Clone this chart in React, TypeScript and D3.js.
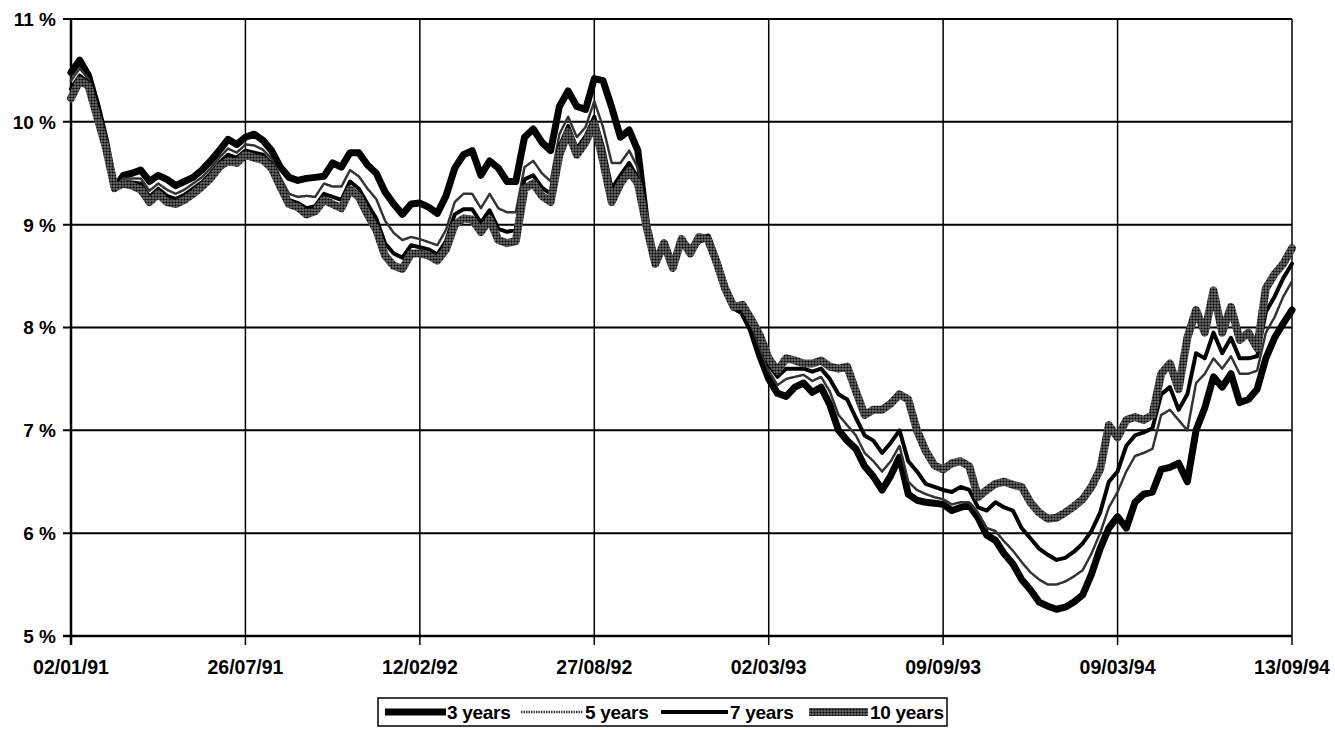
import React from "react";
import * as d3 from "d3";

const tickLabels = ["02/01/91", "26/07/91", "12/02/92", "27/08/92", "02/03/93", "09/09/93", "09/03/94", "13/09/94"];
const yTicks = [5, 6, 7, 8, 9, 10, 11];
const seriesNames = ["3 years", "5 years", "7 years", "10 years"];

const y3 = [
  10.48, 10.6, 10.45, 10.15, 9.8, 9.35, 9.48, 9.5, 9.53, 9.42,
  9.48, 9.44, 9.38, 9.42, 9.46, 9.53, 9.62, 9.72, 9.83, 9.78,
  9.85, 9.88, 9.82, 9.72, 9.56, 9.46, 9.43, 9.45, 9.46, 9.47,
  9.6, 9.56, 9.7, 9.7, 9.58, 9.5, 9.32, 9.2, 9.1, 9.2,
  9.21, 9.17, 9.11, 9.28, 9.55, 9.68, 9.72, 9.48, 9.62, 9.55,
  9.42, 9.42, 9.85, 9.93, 9.8, 9.72, 10.15, 10.3, 10.15, 10.12,
  10.42, 10.4, 10.14, 9.85, 9.92, 9.72, 9.0, 8.62, 8.82, 8.6,
  8.85, 8.75, 8.85, 8.88, 8.65, 8.38, 8.2, 8.15, 7.98, 7.72,
  7.5, 7.36, 7.33, 7.42, 7.46, 7.37, 7.42, 7.25, 7.0, 6.9,
  6.82, 6.65, 6.55, 6.42, 6.56, 6.74, 6.38, 6.32, 6.3, 6.29,
  6.28, 6.22, 6.25, 6.27, 6.15, 5.98, 5.93, 5.8, 5.7, 5.55,
  5.45, 5.33, 5.29, 5.26, 5.28, 5.33, 5.4, 5.6, 5.85, 6.05,
  6.16, 6.05, 6.3, 6.38, 6.4, 6.62, 6.64, 6.68, 6.5, 7.0,
  7.22, 7.52, 7.42, 7.55, 7.27, 7.3, 7.4, 7.7, 7.9, 8.04,
  8.17,
];

const y5 = [
  10.4, 10.52, 10.42, 10.12, 9.78, 9.36, 9.45, 9.45, 9.45, 9.33,
  9.4, 9.34, 9.3, 9.34, 9.4, 9.46, 9.55, 9.65, 9.74, 9.7,
  9.78, 9.77, 9.73, 9.64, 9.46, 9.3, 9.27, 9.28, 9.27, 9.4,
  9.37, 9.37, 9.53, 9.47, 9.35, 9.25, 9.04, 8.92, 8.85, 8.88,
  8.86, 8.83, 8.8, 8.95, 9.22, 9.3, 9.3, 9.16, 9.3, 9.16,
  9.12, 9.12, 9.56, 9.62, 9.5, 9.42, 9.88, 10.05, 9.85, 9.95,
  10.2, 9.95, 9.6, 9.6, 9.72, 9.55, 8.98, 8.62, 8.82, 8.6,
  8.86, 8.74, 8.86, 8.87, 8.65, 8.38, 8.2, 8.18, 8.02, 7.8,
  7.58, 7.44, 7.5, 7.52, 7.54, 7.48, 7.52, 7.38, 7.15, 7.05,
  6.95, 6.78, 6.7, 6.6, 6.7, 6.85, 6.5, 6.42, 6.38, 6.35,
  6.33, 6.28, 6.3, 6.3, 6.2, 6.05, 6.02, 5.92, 5.83, 5.72,
  5.62, 5.55, 5.5, 5.5, 5.53, 5.58, 5.64, 5.8, 6.0, 6.25,
  6.4, 6.6, 6.75, 6.78, 6.82, 7.15, 7.2, 7.1, 7.0, 7.46,
  7.55, 7.7, 7.6, 7.72, 7.55, 7.55, 7.58, 7.95, 8.1, 8.3,
  8.45,
];

const y7 = [
  10.32, 10.45, 10.38, 10.1, 9.76, 9.35, 9.42, 9.41, 9.4, 9.27,
  9.35, 9.28, 9.25, 9.29, 9.35, 9.41, 9.5, 9.6, 9.68, 9.65,
  9.72, 9.7, 9.68, 9.59, 9.41, 9.24, 9.21, 9.16, 9.18, 9.3,
  9.27, 9.24, 9.42, 9.35, 9.2, 9.06, 8.82, 8.72, 8.68, 8.8,
  8.78, 8.76, 8.71, 8.84, 9.1, 9.15, 9.15, 9.02, 9.14, 8.96,
  8.93, 8.95, 9.44, 9.48, 9.36, 9.3, 9.76, 9.96, 9.74, 9.86,
  10.05, 9.75, 9.35, 9.48, 9.6, 9.45, 8.98, 8.62, 8.82, 8.59,
  8.86, 8.73, 8.87, 8.86, 8.64, 8.38, 8.2, 8.2, 8.05, 7.86,
  7.64, 7.52, 7.6, 7.6, 7.6, 7.57, 7.6, 7.5, 7.35, 7.3,
  7.12, 6.95, 6.9, 6.78, 6.88, 7.0, 6.7, 6.6, 6.48, 6.45,
  6.42, 6.4, 6.45, 6.42, 6.25, 6.22, 6.3, 6.25, 6.22, 6.05,
  5.95, 5.85, 5.79, 5.74, 5.76, 5.82, 5.9, 6.02, 6.2, 6.5,
  6.6, 6.85, 6.95, 6.98, 7.02, 7.35, 7.42, 7.2, 7.35, 7.75,
  7.7, 7.95, 7.75, 7.9, 7.7, 7.7, 7.72, 8.15, 8.3, 8.48,
  8.62,
];

const y10 = [
  10.23, 10.4, 10.35, 10.05, 9.75, 9.36, 9.4, 9.38, 9.34, 9.22,
  9.3, 9.22, 9.2, 9.24, 9.3, 9.37, 9.45, 9.56, 9.62, 9.6,
  9.68, 9.65, 9.63, 9.55, 9.37, 9.2, 9.17, 9.1, 9.13, 9.24,
  9.2, 9.16, 9.34, 9.27, 9.1, 8.95, 8.7, 8.6, 8.57, 8.72,
  8.72, 8.7, 8.65, 8.76, 9.0, 9.06, 9.05, 8.93, 9.05, 8.85,
  8.82, 8.84, 9.35, 9.4, 9.28, 9.22, 9.68, 9.9, 9.68, 9.8,
  9.98, 9.62, 9.22, 9.4, 9.52, 9.4, 8.98, 8.62, 8.82, 8.58,
  8.86, 8.72, 8.88, 8.86, 8.64, 8.38, 8.2, 8.22, 8.08, 7.92,
  7.7, 7.58, 7.7, 7.68, 7.65, 7.65, 7.68, 7.62, 7.6, 7.62,
  7.38, 7.15, 7.2, 7.2, 7.26, 7.35, 7.3, 7.0, 6.8, 6.66,
  6.62, 6.68, 6.7, 6.65, 6.35, 6.42, 6.48, 6.5, 6.47, 6.45,
  6.3, 6.2, 6.14, 6.15, 6.2, 6.26, 6.33, 6.45, 6.62, 7.05,
  6.93, 7.1, 7.13, 7.1, 7.15, 7.55, 7.65, 7.4, 7.9, 8.17,
  7.95, 8.36, 7.95, 8.2, 7.88, 7.95, 7.8, 8.38, 8.52, 8.62,
  8.77,
];

const FONT = "'Liberation Sans', Arial, Helvetica, sans-serif";

export default function App() {
  const n = y3.length;
  const x = d3.scaleLinear().domain([0, n - 1]).range([71, 1292]);
  const y = d3.scaleLinear().domain([5, 11]).range([636, 19]);
  const line = d3
    .line<number>()
    .x((_, i) => x(i))
    .y((d) => y(d))
    .curve(d3.curveLinear);

  const tickIdx = tickLabels.map((_, k) => (k * (n - 1)) / (tickLabels.length - 1));

  const styles = [
    { stroke: "#000", width: 7, dash: undefined as string | undefined },
    { stroke: "#333", width: 2.5, dash: "1.5 1" },
    { stroke: "#000", width: 4, dash: undefined },
    { stroke: "url(#stip)", width: 8, dash: undefined },
  ];
  const data = [y3, y5, y7, y10];

  const legX = 378;
  const legY = 698;
  const legW = 569;
  const legH = 28;
  const legItems = [
    { x1: 385, x2: 446, tx: 447 },
    { x1: 521, x2: 583, tx: 585 },
    { x1: 661, x2: 728, tx: 730 },
    { x1: 809, x2: 868, tx: 870 },
  ];

  return (
    <svg
      width={1335}
      height={730}
      style={{ position: "absolute", left: 0, top: 0, background: "#fff" }}
      fontFamily={FONT}
    >
      <defs>
        <pattern id="stip" width="3" height="3" patternUnits="userSpaceOnUse">
          <rect width="3" height="3" fill="#6a6a6a" />
          <circle cx="1.5" cy="1.5" r="1.1" fill="#000" />
        </pattern>
      </defs>
      <rect x={0} y={0} width={1335} height={730} fill="#fff" />

      {yTicks.map((t) => (
        <line key={"h" + t} x1={63} x2={1292} y1={y(t)} y2={y(t)} stroke="#000" strokeWidth={t === 5 ? 2.5 : 2} />
      ))}
      {tickIdx.map((ti, k) => (
        <line
          key={"v" + k}
          x1={x(ti)}
          x2={x(ti)}
          y1={y(11)}
          y2={y(5) + 9}
          stroke="#000"
          strokeWidth={k === 0 ? 2.5 : 1.5}
        />
      ))}

      {yTicks.map((t) => (
        <text
          key={"yl" + t}
          x={56}
          y={y(t)}
          dy="0.36em"
          textAnchor="end"
          fontSize={19}
          fontWeight="bold"
          fill="#000"
        >
          {t + " %"}
        </text>
      ))}
      {tickLabels.map((lab, k) => (
        <text
          key={"xl" + k}
          x={x(tickIdx[k])}
          y={674}
          textAnchor="middle"
          fontSize={19.5}
          fontWeight="bold"
          fill="#000"
        >
          {lab}
        </text>
      ))}

      {data.map((s, i) => (
        <path
          key={"s" + i}
          d={line(s) || ""}
          fill="none"
          stroke={styles[i].stroke}
          strokeWidth={styles[i].width}
          strokeDasharray={styles[i].dash}
          strokeLinejoin="round"
          strokeLinecap="round"
        />
      ))}

      <rect x={legX} y={legY} width={legW} height={legH} fill="#fff" stroke="#000" strokeWidth={1.5} />
      {legItems.map((it, i) => (
        <g key={"lg" + i}>
          <line
            x1={it.x1}
            x2={it.x2}
            y1={legY + legH / 2}
            y2={legY + legH / 2}
            stroke={styles[i].stroke}
            strokeWidth={styles[i].width}
            strokeDasharray={styles[i].dash}
          />
          <text x={it.tx} y={legY + legH / 2} dy="0.36em" fontSize={19} fontWeight="bold" letterSpacing={-0.3} fill="#000">
            {seriesNames[i]}
          </text>
        </g>
      ))}
    </svg>
  );
}
